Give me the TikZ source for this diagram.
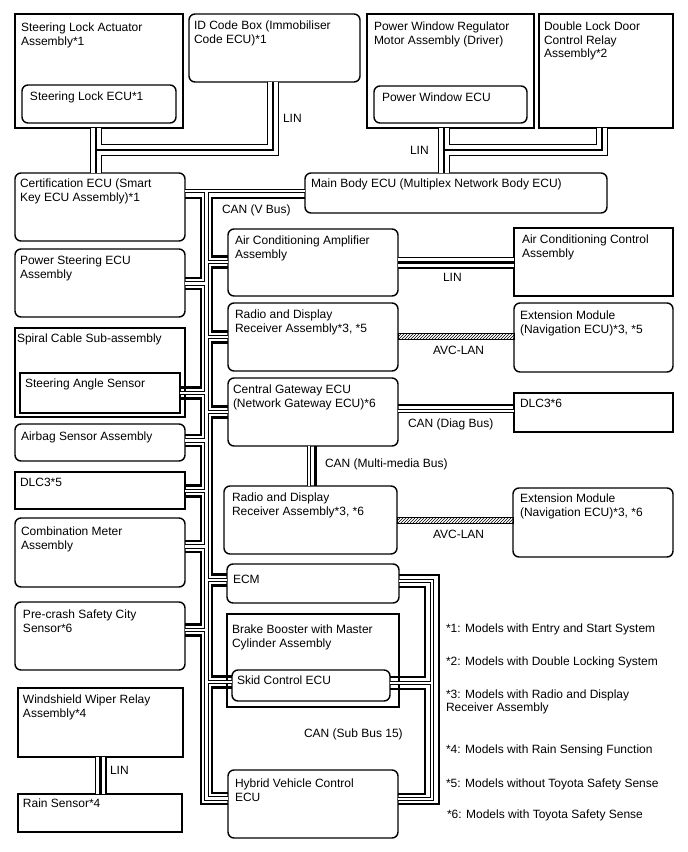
\documentclass[tikz,border=0pt]{standalone}
\usepackage{fontspec}
\setmainfont{Liberation Sans}
\usetikzlibrary{patterns}
\newcommand\fsz{\fontsize{12}{13.5}\selectfont}

\tikzset{
  box/.style={draw, line width=1.15pt, anchor=north west, inner sep=0pt, outer sep=0pt},
  rbox/.style={box, line width=1.4pt, rounded corners=6pt},
  txt/.style={anchor=north west, align=left, inner sep=0pt, outer sep=0pt,
              minimum width=0pt, minimum height=0pt, font=\fsz},
  hi/.style={line width=2.6pt},
  lo/.style={double, line width=0.9pt, double distance=2.6pt},
  lin/.style={line width=2.6pt, preaction={draw, line width=12pt},
              preaction={draw, white, line width=9.8pt}},
  avc/.style={draw, line width=0.9pt, pattern=north east lines},
}

\begin{document}
\begin{tikzpicture}[x=1pt, y=-1pt]
\useasboundingbox (0,0) rectangle (688,852);

% top row
\node[box, minimum width=168pt, minimum height=114pt,
      label={[txt, xshift=6pt, yshift=-9pt]north west:Steering Lock Actuator\\Assembly*1}] (sla) at (15,14) {};
\node[rbox, minimum width=154pt, minimum height=38pt,
      label={[txt, xshift=8pt, yshift=-7pt]north west:Steering Lock ECU*1}] (slecu) at (22,85) {};
\node[rbox, minimum width=171pt, minimum height=68pt,
      label={[txt, xshift=5pt, yshift=-7pt]north west:ID Code Box (Immobiliser\\Code ECU)*1}] (idbox) at (189,14) {};
\node[box, minimum width=167pt, minimum height=114pt,
      label={[txt, xshift=7pt, yshift=-8pt]north west:Power Window Regulator\\Motor Assembly (Driver)}] (pwr) at (367,14) {};
\node[rbox, minimum width=153pt, minimum height=37pt,
      label={[txt, xshift=8pt, yshift=-7pt]north west:Power Window ECU}] (pwecu) at (374,86) {};
\node[box, minimum width=134pt, minimum height=114pt,
      label={[txt, xshift=5pt, yshift=-8pt]north west:Double Lock Door\\Control Relay\\Assembly*2}] (dbl) at (539,14) {};

% left column
\node[rbox, minimum width=170pt, minimum height=68pt,
      label={[txt, xshift=5pt, yshift=-6pt]north west:Certification ECU (Smart\\Key ECU Assembly)*1}] (cert) at (15,173) {};
\node[rbox, minimum width=302pt, minimum height=40pt,
      label={[txt, xshift=6pt, yshift=-6pt]north west:Main Body ECU (Multiplex Network Body ECU)}] (mbody) at (305,173) {};
\node[rbox, minimum width=170pt, minimum height=68pt,
      label={[txt, xshift=5pt, yshift=-7pt]north west:Power Steering ECU\\Assembly}] (psecu) at (15,249) {};
\node[box, minimum width=170pt, minimum height=89pt,
      label={[txt, xshift=2pt, yshift=-6pt]north west:Spiral Cable Sub-assembly}] (spiral) at (15,328) {};
\node[box, line width=1.8pt, minimum width=160pt, minimum height=40pt,
      label={[txt, xshift=5pt, yshift=-6pt]north west:Steering Angle Sensor}] (sas) at (20,373) {};
\node[rbox, minimum width=170pt, minimum height=37pt,
      label={[txt, xshift=6pt, yshift=-8pt]north west:Airbag Sensor Assembly}] (airbag) at (15,424) {};
\node[box, minimum width=170pt, minimum height=37pt,
      label={[txt, xshift=5pt, yshift=-6pt]north west:DLC3*5}] (dlc5) at (15,472) {};
\node[rbox, minimum width=170pt, minimum height=69pt,
      label={[txt, xshift=6pt, yshift=-9pt]north west:Combination Meter\\Assembly}] (cmeter) at (15,518) {};
\node[rbox, minimum width=170pt, minimum height=68pt,
      label={[txt, xshift=8pt, yshift=-8pt]north west:Pre-crash Safety City\\Sensor*6}] (precrash) at (15,602) {};
\node[box, minimum width=165pt, minimum height=69pt,
      label={[txt, xshift=5pt, yshift=-7pt]north west:Windshield Wiper Relay\\Assembly*4}] (wiper) at (18,688) {};
\node[box, minimum width=164pt, minimum height=38pt,
      label={[txt, xshift=5pt, yshift=-5pt]north west:Rain Sensor*4}] (rain) at (18,794) {};

% middle column
\node[rbox, minimum width=170pt, minimum height=67pt,
      label={[txt, xshift=7pt, yshift=-7pt]north west:Air Conditioning Amplifier\\Assembly}] (aca) at (228,229) {};
\node[rbox, minimum width=170pt, minimum height=68pt,
      label={[txt, xshift=7pt, yshift=-7pt]north west:Radio and Display\\Receiver Assembly*3, *5}] (radio1) at (228,303) {};
\node[rbox, minimum width=170pt, minimum height=68pt,
      label={[txt, xshift=5pt, yshift=-7pt]north west:Central Gateway ECU\\(Network Gateway ECU)*6}] (cgw) at (228,378) {};
\node[rbox, minimum width=173pt, minimum height=68pt,
      label={[txt, xshift=8pt, yshift=-7pt]north west:Radio and Display\\Receiver Assembly*3, *6}] (radio2) at (224,486) {};
\node[rbox, minimum width=172pt, minimum height=39pt,
      label={[txt, xshift=6pt, yshift=-11pt]north west:ECM}] (ecm) at (227,564) {};
\node[box, minimum width=172pt, minimum height=93pt,
      label={[txt, xshift=5pt, yshift=-11pt]north west:Brake Booster with Master\\Cylinder Assembly}] (brake) at (227,614) {};
\node[rbox, minimum width=158pt, minimum height=31pt,
      label={[txt, xshift=5pt, yshift=-6pt]north west:Skid Control ECU}] (skid) at (232,670) {};
\node[rbox, minimum width=170pt, minimum height=68pt,
      label={[txt, xshift=7pt, yshift=-9pt]north west:Hybrid Vehicle Control\\ECU}] (hv) at (228,770) {};

% right column
\node[box, minimum width=159pt, minimum height=68pt,
      label={[txt, xshift=8pt, yshift=-7pt]north west:Air Conditioning Control\\Assembly}] (acc) at (514,228) {};
\node[rbox, minimum width=159pt, minimum height=69pt,
      label={[txt, xshift=6pt, yshift=-8pt]north west:Extension Module\\(Navigation ECU)*3, *5}] (ext1) at (514,303) {};
\node[box, minimum width=159pt, minimum height=39pt,
      label={[txt, xshift=6pt, yshift=-6pt]north west:DLC3*6}] (dlc6) at (514,393) {};
\node[rbox, minimum width=160pt, minimum height=69pt,
      label={[txt, xshift=7pt, yshift=-6pt]north west:Extension Module\\(Navigation ECU)*3, *6}] (ext2) at (513,488) {};

% LIN lines
\draw[lin] (96,0 |- sla.south) -- (96,0 |- cert.north)
           (273,0 |- idbox.south) |- (96,150);
\draw[lin] (444,0 |- pwr.south) -- (444,0 |- mbody.north)
           (602,0 |- dbl.south) |- (444,150);
\draw[lin] (aca.east |- 0,262.5) -- (acc.west |- 0,262.5);
\draw[lin] (100.5,0 |- wiper.south) -- (100.5,0 |- rain.north);

% CAN (V Bus), hollow wire
\draw[lo] (cert.east |- 0,191) -- (mbody.west |- 0,191)
          (206.5,191) -- (206.5,798.5) -- (hv.west |- 0,798.5)
          (206.5,283.5) -- (psecu.east |- 0,283.5)
          (206.5,393) -- (sas.east |- 0,393)
          (206.5,440.5) -- (airbag.east |- 0,440.5)
          (206.5,491) -- (dlc5.east |- 0,491)
          (206.5,546.5) -- (cmeter.east |- 0,546.5)
          (206.5,630) -- (precrash.east |- 0,630)
          (206.5,262) -- (aca.west |- 0,262)
          (206.5,337) -- (radio1.west |- 0,337)
          (206.5,412) -- (cgw.west |- 0,412)
          (206.5,580) -- (ecm.west |- 0,580)
          (206.5,682) -- (skid.west |- 0,682);
% CAN (V Bus), left chain
\draw[hi] (cert.east |- 0,198) -| (201,278) -- (psecu.east |- 0,278)
          (psecu.east |- 0,289) -| (201,387.5) -- (sas.east |- 0,387.5)
          (sas.east |- 0,398.5) -| (201,435) -- (airbag.east |- 0,435)
          (airbag.east |- 0,446) -| (201,485.5) -- (dlc5.east |- 0,485.5)
          (dlc5.east |- 0,496.5) -| (201,541) -- (cmeter.east |- 0,541)
          (cmeter.east |- 0,552) -| (201,624.5) -- (precrash.east |- 0,624.5)
          (precrash.east |- 0,635.5) -| (201,804) -- (hv.west |- 0,804);
% CAN (V Bus), right chain
\draw[hi] (mbody.west |- 0,198) -| (212,256.5) -- (aca.west |- 0,256.5)
          (aca.west |- 0,267.5) -| (212,331.5) -- (radio1.west |- 0,331.5)
          (radio1.west |- 0,342.5) -| (212,406.5) -- (cgw.west |- 0,406.5)
          (cgw.west |- 0,417.5) -| (212,574.5) -- (ecm.west |- 0,574.5)
          (ecm.west |- 0,585.5) -| (212,676.5) -- (skid.west |- 0,676.5)
          (skid.west |- 0,687.5) -| (212,793) -- (hv.west |- 0,793);

% CAN (Sub Bus 15)
\draw[lo] (ecm.east |- 0,581) -| (432,799) -- (hv.east |- 0,799)
          (432,683) -- (skid.east |- 0,683);
\draw[hi] (ecm.east |- 0,575) -| (439,804) -- (hv.east |- 0,804)
          (ecm.east |- 0,587) -| (425,677) -- (skid.east |- 0,677)
          (skid.east |- 0,689) -| (425,794) -- (hv.east |- 0,794);

% CAN (Multi-media Bus) and CAN (Diag Bus)
\draw[lo] (309,0 |- cgw.south) -- (309,0 |- radio2.north);
\draw[hi] (315.5,0 |- cgw.south) -- (315.5,0 |- radio2.north);
\draw[hi] (cgw.east |- 0,405) -- (dlc6.west |- 0,405);
\draw[lo] (cgw.east |- 0,411) -- (dlc6.west |- 0,411);

% AVC-LAN
\draw[avc] (radio1.east |- 0,333) rectangle (ext1.west |- 0,339);
\draw[avc] (radio2.east |- 0,517) rectangle (ext2.west |- 0,523);

% bus names
\node[txt] (lin1) at (283,114) {LIN};
\node[txt] (lin2) at (410,146) {LIN};
\node[txt] (canv) at (222,205) {CAN (V Bus)};
\node[txt] (lin3) at (443,273) {LIN};
\node[txt] (avc1) at (433,346) {AVC-LAN};
\node[txt] (cand) at (408,419) {CAN (Diag Bus)};
\node[txt] (canm) at (325,459) {CAN (Multi-media Bus)};
\node[txt] (avc2) at (433,530) {AVC-LAN};
\node[txt] (cans) at (304,729) {CAN (Sub Bus 15)};
\node[txt] (lin4) at (110,766) {LIN};

% notes
\node[txt] (note1) at (446,623.7) {*1: Models with Entry and Start System};
\node[txt] (note2) at (446,656.7) {*2: Models with Double Locking System};
\node[txt] (note3) at (446,689.7) {*3: Models with Radio and Display\\Receiver Assembly};
\node[txt] (note4) at (446,744.7) {*4: Models with Rain Sensing Function};
\node[txt] (note5) at (446,778.7) {*5: Models without Toyota Safety Sense};
\node[txt] (note6) at (447,809.7) {*6: Models with Toyota Safety Sense};
\end{tikzpicture}
\end{document}
